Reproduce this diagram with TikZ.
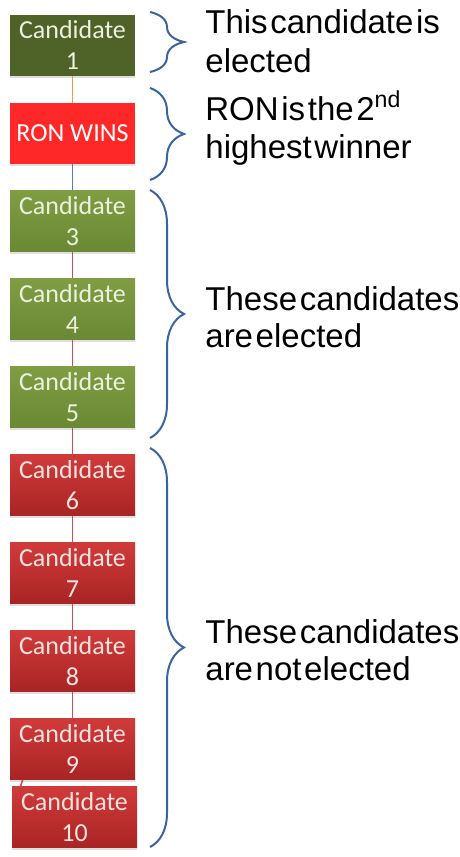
\documentclass[tikz,border=0pt]{standalone}
\usepackage{fontspec}
\setmainfont{Liberation Sans}
\newfontfamily\boxfont{Carlito}
\usetikzlibrary{decorations.pathreplacing,calc,shadows}

\definecolor{olivedark}{HTML}{4F6228}
\definecolor{greentop}{HTML}{7F9D43}
\definecolor{greenbot}{HTML}{6B8834}
\definecolor{greentext}{HTML}{EBF1DE}
\definecolor{redtop}{HTML}{D03B3A}
\definecolor{redbot}{HTML}{A92424}
\definecolor{redtext}{HTML}{F8E2E0}
\definecolor{ronred}{HTML}{FF2828}
\definecolor{linkorange}{HTML}{F79646}
\definecolor{linkblue}{HTML}{4F81BD}
\definecolor{linkred}{HTML}{C9514E}
\definecolor{bracecol}{HTML}{3A64A0}

\newcommand{\notefont}{\fontsize{16.5}{19}\selectfont\spaceskip 0.08em\relax}

\begin{document}
\begin{tikzpicture}[x=0.5pt,y=-0.5pt,
  cand/.style={minimum width=62.5pt, minimum height=30.5pt, inner sep=0pt, align=center,
    font=\boxfont\fontsize{13}{15.5}\selectfont,
    drop shadow={shadow xshift=0pt, shadow yshift=-1pt, opacity=0.25}},
  greenbox/.style={cand, top color=greentop, bottom color=greenbot, text=greentext},
  redbox/.style={cand, top color=redtop, bottom color=redbot, text=redtext},
  link/.style={line width=0.8pt},
  brace/.style={decorate, decoration={brace, amplitude=17pt}, draw=bracecol, line width=1pt},
  note/.style={anchor=base west, inner sep=0pt, font=\notefont}
]
  \useasboundingbox (0,0) rectangle (460,857);

  % Candidate column
  \node[cand, fill=olivedark, text=greentext] (c1) at (72.5,45) {Candidate\\1};
  \node[cand, fill=ronred, text=white] (ron) at (72.5,133.5) {RON WINS};
  \foreach \i in {3,4,5} {
    \node[greenbox] (c\i) at (72.5,{45+88*(\i-1)}) {Candidate\\\i};
  }
  \foreach \i in {6,...,9} {
    \node[redbox] (c\i) at (72.5,{45+88*(\i-1)}) {Candidate\\\i};
  }
  \node[redbox] (c10) at (74.5,817) {Candidate\\10};

  % Links
  \draw[link, linkorange] (c1) -- (ron);
  \draw[link, linkblue] (ron) -- (c3);
  \foreach \a/\b in {3/4,4/5,5/6,6/7,7/8,8/9} {
    \draw[link, linkred] (c\a) -- (c\b);
  }
  \draw[link, linkred] ($(c9.south west)+(13,0)$) -- ($(c10.north west)+(9,0)$);

  % Braces
  \draw[brace] (150,12) -- (150,72);
  \draw[brace] (150,88) -- (150,180);
  \draw[brace] (150,190) -- (150,438);
  \draw[brace] (150,448) -- (150,847);

  % Notes
  \node[note] (n1a) at (205,33) {This candidate is};
  \node[note] (n1b) at (205,72) {elected};
  \node[note] (n2a) at (205,120) {RON is the 2\textsuperscript{nd}};
  \node[note] (n2b) at (205,158) {highest winner};
  \node[note] (n3a) at (205,310) {These candidates};
  \node[note] (n3b) at (205,347) {are elected};
  \node[note] (n4a) at (205,643) {These candidates};
  \node[note] (n4b) at (205,680) {are not elected};
\end{tikzpicture}
\end{document}
